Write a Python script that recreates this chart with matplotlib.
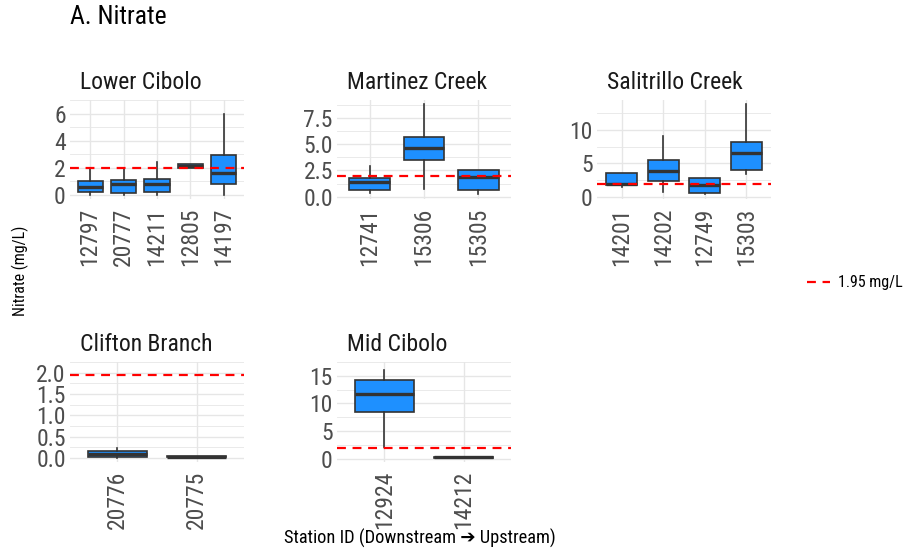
import matplotlib
matplotlib.use('Agg')
import matplotlib.pyplot as plt
from matplotlib import font_manager as fm
from matplotlib.lines import Line2D

# ---------------- data ----------------
threshold = 1.95

lc_ids = ['12797', '20777', '14211', '12805', '14197']
lc_lo  = [0.00, 0.00, 0.00, 2.02, 0.00]
lc_q1  = [0.22, 0.16, 0.22, 2.02, 0.82]
lc_med = [0.60, 0.82, 0.84, 2.15, 1.60]
lc_q3  = [1.04, 1.11, 1.18, 2.27, 2.96]
lc_hi  = [1.93, 2.02, 2.42, 2.27, 6.00]

mc_ids = ['12741', '15306', '15305']
mc_lo  = [0.32, 0.76, 0.22]
mc_q1  = [0.63, 3.54, 0.66]
mc_med = [1.39, 4.62, 1.90]
mc_q3  = [1.74, 5.70, 2.50]
mc_hi  = [2.97, 8.77, 2.50]

sc_ids = ['14201', '14202', '12749', '15303']
sc_lo  = [1.50, 0.70, 0.35, 3.35]
sc_q1  = [1.75, 2.40, 0.50, 4.00]
sc_med = [1.90, 3.80, 1.70, 6.55]
sc_q3  = [3.60, 5.45, 2.85, 8.15]
sc_hi  = [3.60, 9.10, 2.85, 13.85]

cb_ids = ['20776', '20775']
cb_lo  = [0.00, 0.02]
cb_q1  = [0.01, 0.02]
cb_med = [0.08, 0.03]
cb_q3  = [0.15, 0.045]
cb_hi  = [0.23, 0.045]

md_ids = ['12924', '14212']
md_lo  = [2.07, 0.20]
md_q1  = [8.40, 0.20]
md_med = [11.80, 0.30]
md_q3  = [14.30, 0.35]
md_hi  = [16.00, 0.35]

lc_ticks = [0, 2, 4, 6];            lc_tl = ['0', '2', '4', '6']
mc_ticks = [0, 2.5, 5, 7.5];        mc_tl = ['0.0', '2.5', '5.0', '7.5']
sc_ticks = [0, 5, 10];              sc_tl = ['0', '5', '10']
cb_ticks = [0, 0.5, 1.0, 1.5, 2.0]; cb_tl = ['0.0', '0.5', '1.0', '1.5', '2.0']
md_ticks = [0, 5, 10, 15];          md_tl = ['0', '5', '10', '15']

# ---------------- fonts ----------------
avail = {f.name for f in fm.fontManager.ttflist}
main_font = 'Roboto Condensed' if 'Roboto Condensed' in avail else 'Roboto'
plt.rcParams['font.family'] = [main_font, 'DejaVu Sans']

W, H = 916, 552
fig = plt.figure(figsize=(W / 100, H / 100), dpi=100)

def px_axes(x0, y0, x1, y1):
    return fig.add_axes([x0 / W, 1 - y1 / H, (x1 - x0) / W, (y1 - y0) / H])

BLUE = '#1E90FF'
EDGE = '#333333'
GRID = '#E6E6E6'

def panel(ax, title, ids, lo, q1, med, q3, hi, ticks, tl):
    n = len(ids)
    stats = [dict(whislo=a, q1=b, med=c, q3=d, whishi=e, label=i)
             for i, a, b, c, d, e in zip(ids, lo, q1, med, q3, hi)]
    ax.bxp(stats, positions=list(range(1, n + 1)), widths=0.75,
           showfliers=False, showcaps=False, patch_artist=True,
           boxprops=dict(facecolor=BLUE, edgecolor=EDGE, linewidth=1.2),
           medianprops=dict(color=EDGE, linewidth=2.4, solid_capstyle='butt'),
           whiskerprops=dict(color=EDGE, linewidth=1.2))
    ax.axhline(threshold, color='red', lw=1.6, ls=(0, (4, 3)), zorder=5)
    ax.set_xlim(0.4, n + 0.6)
    ymin = min(min(lo), threshold)
    ymax = max(max(hi), threshold)
    pad = 0.05 * (ymax - ymin)
    ax.set_ylim(ymin - pad, ymax + pad)
    ax.set_yticks(ticks)
    ax.set_yticklabels(tl)
    minors = [(ticks[k] + ticks[k + 1]) / 2 for k in range(len(ticks) - 1)]
    step = ticks[1] - ticks[0]
    minors.append(ticks[-1] + step / 2)
    ax.set_yticks(minors, minor=True)
    ax.set_xticks(list(range(1, n + 1)))
    ax.set_xticklabels(ids, rotation=90)
    ax.set_axisbelow(True)
    ax.grid(which='major', color=GRID, lw=1.0)
    ax.grid(which='minor', axis='y', color=GRID, lw=0.6)
    for s in ax.spines.values():
        s.set_visible(False)
    ax.tick_params(which='both', length=0)
    ax.tick_params(axis='y', labelsize=17, labelcolor='#4D4D4D', pad=3)
    ax.tick_params(axis='x', labelsize=17, labelcolor='#4D4D4D', pad=6)
    ax.text(10 / 174, 1.0 + 11 / 99, title, transform=ax.transAxes,
            ha='left', va='baseline', fontsize=17, color='#1A1A1A')

ax1 = px_axes(70, 100, 244, 199)
panel(ax1, 'Lower Cibolo', lc_ids, lc_lo, lc_q1, lc_med, lc_q3, lc_hi, lc_ticks, lc_tl)
ax2 = px_axes(337, 100, 511, 199)
panel(ax2, 'Martinez Creek', mc_ids, mc_lo, mc_q1, mc_med, mc_q3, mc_hi, mc_ticks, mc_tl)
ax3 = px_axes(597, 100, 771, 199)
panel(ax3, 'Salitrillo Creek', sc_ids, sc_lo, sc_q1, sc_med, sc_q3, sc_hi, sc_ticks, sc_tl)
ax4 = px_axes(70, 362, 244, 462)
panel(ax4, 'Clifton Branch', cb_ids, cb_lo, cb_q1, cb_med, cb_q3, cb_hi, cb_ticks, cb_tl)
ax5 = px_axes(337, 362, 511, 462)
panel(ax5, 'Mid Cibolo', md_ids, md_lo, md_q1, md_med, md_q3, md_hi, md_ticks, md_tl)

fig.text(70 / W, 1 - 17 / H, 'A. Nitrate', ha='left', va='center',
         fontsize=18.5, color='black')
fig.text(20 / W, 1 - 271 / H, 'Nitrate (mg/L)', rotation=90, ha='center',
         va='center', fontsize=11.5, color='black')
fig.text(420 / W, 1 - 538 / H, 'Station ID (Downstream \u2794 Upstream)',
         ha='center', va='center', fontsize=13.2, color='black',
         family=[main_font, 'DejaVu Sans'])

handle = Line2D([], [], color='red', lw=1.6, ls=(0, (4, 3)))
fig.legend([handle], ['1.95 mg/L'], loc='center left',
           bbox_to_anchor=(793 / W, 1 - 283 / H), frameon=False,
           fontsize=11.5, handlelength=1.4, handletextpad=0.5)

fig.savefig('out.png', dpi=100)
